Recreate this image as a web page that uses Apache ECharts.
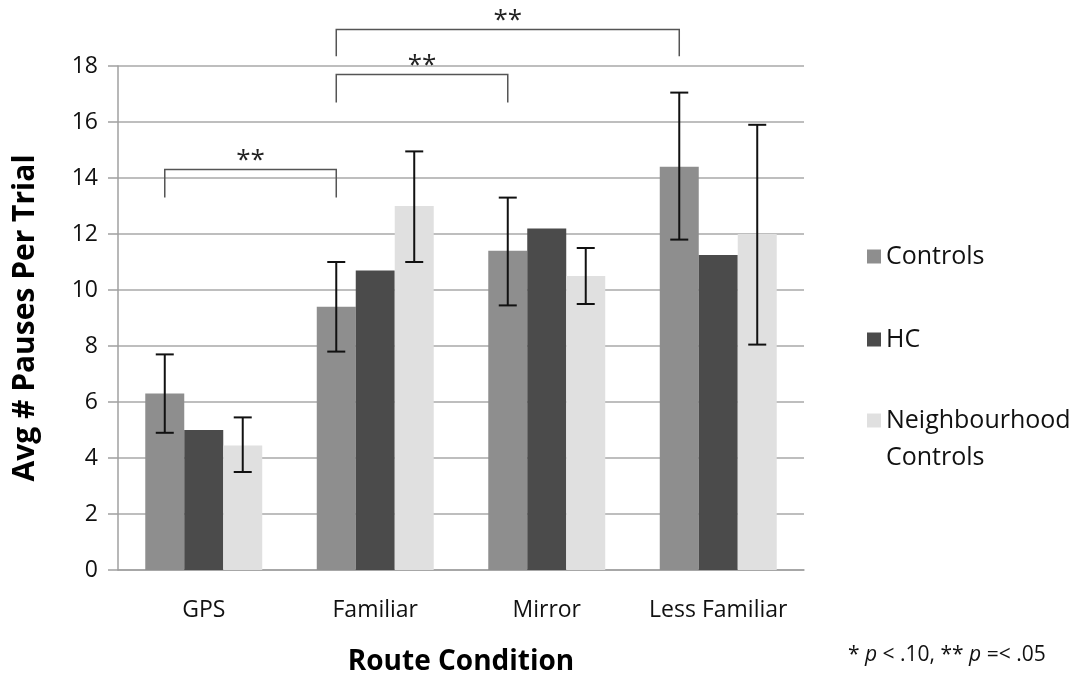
<!DOCTYPE html>
<html>
<head>
<meta charset="utf-8">
<script src="https://cdn.jsdelivr.net/npm/echarts@6/dist/echarts.min.js"></script>
<style>
  html, body { margin: 0; padding: 0; background: #fff; }
  #chart { width: 1085px; height: 677px; }
</style>
</head>
<body>
<div id="chart"></div>
<script>
const categories = ["GPS", "Familiar", "Mirror", "Less Familiar"]
const yTicks = [0, 2, 4, 6, 8, 10, 12, 14, 16, 18]

const controls = [6.3, 9.4, 11.4, 14.4]
const hc = [5.0, 10.7, 12.2, 11.25]
const neighbourhood = [4.45, 13.0, 10.5, 12.0]

// error bars (low / high), HC has none
const controlsLow = [4.9, 7.8, 9.45, 11.8]
const controlsHigh = [7.7, 11.0, 13.3, 17.05]
const neighLow = [3.5, 11.0, 9.5, 8.05]
const neighHigh = [5.45, 14.95, 11.5, 15.9]

// significance brackets between Controls bars
const sigFrom = [0, 1, 1]
const sigTo = [1, 2, 3]
const sigTop = [14.3, 17.7, 19.3]
const sigDrop = [13.3, 16.7, 18.35]
const sigLabel = ["**", "**", "**"]

const FONT = "'Open Sans', sans-serif"
const CAT_GAP = 0.318

const barW = (api) => (api.size([1, 0])[0] * (1 - CAT_GAP)) / 3

const errData = (low, high) => low.map((l, i) => [i, l, high[i]])

const errSeries = (name, low, high, side) => ({
  type: "custom",
  name: name,
  z: 5,
  silent: true,
  data: errData(low, high),
  encode: { x: 0, y: [1, 2] },
  renderItem: (params, api) => {
    const w = barW(api)
    const lo = api.coord([api.value(0), api.value(1)])
    const hi = api.coord([api.value(0), api.value(2)])
    const x = lo[0] + side * w
    const cap = 9
    const st = { stroke: "#111", lineWidth: 2 }
    return {
      type: "group",
      children: [
        { type: "line", shape: { x1: x, y1: lo[1], x2: x, y2: hi[1] }, style: st },
        { type: "line", shape: { x1: x - cap, y1: lo[1], x2: x + cap, y2: lo[1] }, style: st },
        { type: "line", shape: { x1: x - cap, y1: hi[1], x2: x + cap, y2: hi[1] }, style: st },
      ],
    }
  },
})

const sigData = sigFrom.map((f, i) => [f, sigTo[i], sigTop[i], sigDrop[i]])

const chart = echarts.init(document.getElementById("chart"))

const legendText = { fontSize: 25, color: "#111", fontFamily: FONT, lineHeight: 37 }

const option = {
  animation: false,
  textStyle: { fontFamily: FONT },
  grid: { left: 118, right: 281, top: 66, bottom: 107, outerBoundsMode: "none" },
  legend: [
    {
      data: ["Controls", "HC"],
      orient: "vertical",
      left: 862,
      top: 233,
      itemWidth: 14,
      itemHeight: 14,
      itemGap: 46,
      icon: "rect",
      textStyle: legendText,
    },
    {
      data: ["Neighbourhood Controls"],
      orient: "vertical",
      left: 862,
      top: 360,
      itemWidth: 14,
      itemHeight: 14,
      icon: "rect",
      formatter: () => "{p| }\n{t|Neighbourhood}\n{t|Controls}",
      textStyle: {
        ...legendText,
        rich: { p: { lineHeight: 37, fontSize: 25 }, t: { ...legendText } },
      },
    },
  ],
  xAxis: {
    type: "category",
    data: categories,
    name: "Route Condition",
    nameLocation: "middle",
    nameGap: 78,
    nameTextStyle: { fontSize: 28, fontWeight: "bold", color: "#000" },
    axisLine: { lineStyle: { color: "#a0a0a0", width: 1.5 } },
    axisTick: { show: false },
    axisLabel: { interval: 0, fontSize: 23, color: "#111", margin: 29 },
  },
  yAxis: {
    type: "value",
    min: 0,
    max: 18,
    interval: 2,
    name: "Avg # Pauses Per Trial",
    nameLocation: "middle",
    nameGap: 78,
    nameTextStyle: { fontSize: 30, fontWeight: "bold", color: "#000" },
    axisLine: { show: true, lineStyle: { color: "#a0a0a0", width: 1.5 } },
    axisTick: { show: true, length: 10, lineStyle: { color: "#a0a0a0", width: 1.5 } },
    axisLabel: {
      fontSize: 23,
      color: "#111",
      margin: 20,
      formatter: (v) => (yTicks.includes(v) ? String(v) : ""),
    },
    splitLine: { lineStyle: { color: "#a8a8a8", width: 1.5 } },
  },
  series: [
    {
      name: "Controls",
      type: "bar",
      data: controls,
      barGap: "0%",
      barCategoryGap: CAT_GAP * 100 + "%",
      itemStyle: { color: "#8e8e8e" },
    },
    {
      name: "HC",
      type: "bar",
      data: hc,
      itemStyle: { color: "#4b4b4b" },
    },
    {
      name: "Neighbourhood Controls",
      type: "bar",
      data: neighbourhood,
      itemStyle: { color: "#e0e0e0" },
    },
    errSeries("controlsErr", controlsLow, controlsHigh, -1),
    errSeries("neighErr", neighLow, neighHigh, 1),
    {
      type: "custom",
      name: "sig",
      z: 6,
      silent: true,
      clip: false,
      data: sigData,
      encode: { x: [0, 1], y: [2, 3] },
      renderItem: (params, api) => {
        const w = barW(api)
        const a = api.coord([api.value(0), api.value(2)])
        const b = api.coord([api.value(1), api.value(3)])
        const x1 = a[0] - w
        const x2 = b[0] - w
        const yTop = a[1]
        const yDrop = b[1]
        const st = { stroke: "#555", lineWidth: 1.5, fill: null }
        return {
          type: "group",
          children: [
            {
              type: "polyline",
              shape: { points: [[x1, yDrop], [x1, yTop], [x2, yTop], [x2, yDrop]] },
              style: st,
            },
            {
              type: "text",
              x: (x1 + x2) / 2,
              y: yTop + 4,
              style: {
                text: sigLabel[params.dataIndex],
                fontSize: 26,
                fontFamily: FONT,
                fill: "#222",
                align: "center",
                verticalAlign: "bottom",
              },
            },
          ],
        }
      },
    },
  ],
  graphic: [
    {
      type: "text",
      left: 848,
      top: 645,
      style: {
        text: "* {i|p} < .10, ** {i|p} =< .05",
        fontSize: 21,
        fontFamily: FONT,
        fill: "#111",
        rich: { i: { fontStyle: "italic", fontSize: 21, fontFamily: FONT, fill: "#111" } },
      },
    },
  ],
}

chart.setOption(option)
</script>
</body>
</html>
